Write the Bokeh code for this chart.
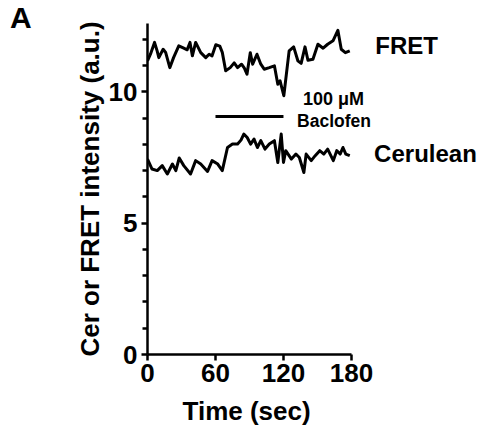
from bokeh.plotting import figure
from bokeh.models import Label, FixedTicker, Range1d, Title, Div
from bokeh.layouts import column
from bokeh.embed import file_html
from bokeh.resources import INLINE

fret_t = [0, 2.6, 6.2, 8.5, 10, 13.8, 16, 19.7, 23, 27.6, 32, 35, 37.5, 39.6, 42.5,
          47, 51.4, 54.4, 57, 60.3, 63.8, 66, 69, 73, 76.5, 79.5, 83, 85.5, 87.8, 90.7,
          92.8, 96.6, 100, 103, 107.5, 112, 115, 117, 120.3, 125, 129, 132.7, 135.6, 139,
          141.6, 146, 150.4, 155, 159, 163.7, 168, 171, 174.6, 178.5]
fret_y = [11.18, 11.43, 11.88, 11.56, 11.3, 11.62, 11.5, 10.92, 11.3, 11.75, 11.66, 11.6,
          11.88, 11.37, 11.88, 11.49, 11.3, 11.43, 11.37, 11.79, 11.74, 11.5, 10.8, 10.92,
          11.1, 10.92, 11.05, 10.9, 10.67, 11.49, 11.05, 11.43, 11.05, 10.86, 10.92, 10.99,
          10.29, 10.42, 9.85, 11.56, 11.71, 11.18, 11.08, 11.71, 11.2, 11.24, 11.81, 11.66,
          11.81, 11.94, 12.34, 11.62, 11.49, 11.56]

cer_t = [0, 4, 8.6, 13, 17.5, 22, 25, 28, 32, 38, 42.5, 47, 53, 57, 62, 66, 70.6, 75, 79.5,
         82.5, 85, 88, 91, 94, 97, 100, 103.7, 107.5, 112, 115, 118, 120, 122, 127, 131,
         134, 138, 140, 144.5, 148, 152, 155.6, 159, 164, 167, 170, 172.5, 175, 178.5]
cer_y = [7.44, 7.06, 7.0, 7.19, 6.87, 7.25, 7.0, 7.48, 7.19, 6.87, 7.38, 7.25, 6.97, 7.38,
         7.25, 7.0, 7.88, 8.01, 8.01, 8.16, 8.39, 8.26, 8.01, 8.2, 7.88, 8.14, 7.82, 8.01,
         8.14, 7.31, 8.39, 7.31, 7.76, 7.44, 7.63, 7.5, 6.93, 7.63, 7.38, 7.57, 7.76, 7.63,
         7.82, 7.38, 7.76, 7.63, 7.88, 7.63, 7.57]

drug_t = [60, 120]
drug_y = [9.06, 9.06]

x_ticks = [0, 60, 120, 180]
y_ticks = [0, 5, 10]
y_minor = [1, 2, 3, 4, 6, 7, 8, 9, 11, 12]

FONT = "Liberation Sans"

p = figure(width=479, height=442, output_backend="svg", toolbar_location=None,
           x_range=Range1d(0, 293), y_range=Range1d(0, 12.6),
           min_border_left=147, min_border_right=0, min_border_top=23, min_border_bottom=88)
p.outline_line_color = None
p.grid.visible = False
p.background_fill_color = "white"
p.border_fill_alpha = 0
p.margin = (-40, 0, 0, 0)

p.line(fret_t, fret_y, line_color="black", line_width=3, line_join="round")
p.line(cer_t, cer_y, line_color="black", line_width=3, line_join="round")
p.line(drug_t, drug_y, line_color="black", line_width=3)

for ax in (p.xaxis[0], p.yaxis[0]):
    ax.axis_line_width = 2.5
    ax.major_tick_line_width = 2.5
    ax.minor_tick_line_width = 2.5
    ax.major_tick_in = 0
    ax.major_tick_out = 6
    ax.minor_tick_in = 0
    ax.minor_tick_out = 5
    ax.major_label_text_font = FONT
    ax.major_label_text_font_style = "bold"
    ax.major_label_text_font_size = "26px"
    ax.major_label_text_color = "black"
    ax.axis_label_text_font = FONT
    ax.axis_label_text_font_style = "bold"
    ax.axis_label_text_font_size = "26px"
    ax.axis_label_text_color = "black"

p.xaxis[0].ticker = FixedTicker(ticks=x_ticks, minor_ticks=[])
p.xaxis[0].bounds = (0, 180)
p.xaxis[0].major_label_standoff = 3

p.yaxis[0].ticker = FixedTicker(ticks=y_ticks, minor_ticks=y_minor)
p.yaxis[0].bounds = (0, 12.6)
p.yaxis[0].axis_label = "Cer or FRET intensity (a.u.)"
p.yaxis[0].major_label_standoff = 4
p.yaxis[0].axis_label_standoff = 1

xt = Title(text="Time (sec)", align="left", offset=35, standoff=19,
           text_font=FONT, text_font_style="bold", text_font_size="26px", text_color="black")
p.add_layout(xt, "below")

def lab(x, y, txt, size, align="left"):
    p.add_layout(Label(x=x, y=y, text=txt, text_font=FONT, text_font_style="bold",
                       text_font_size=size, text_color="black", text_baseline="middle",
                       text_align=align))

lab(201, 11.75, "FRET", "24px")
lab(200, 7.64, "Cerulean", "24px")
lab(137.3, 9.73, "100 \u03bcM", "18px")
lab(132, 8.9, "Baclofen", "17.5px")

panel = Div(text='<div style="font: bold 30px \'Liberation Sans\'; line-height: 30px; '
                 'padding-left: 10px; padding-top: 3px; color: black;">A</div>',
            width=60, height=40, margin=0)

layout = column(panel, p, spacing=0)

open("out.html", "w").write(file_html(layout, INLINE))
